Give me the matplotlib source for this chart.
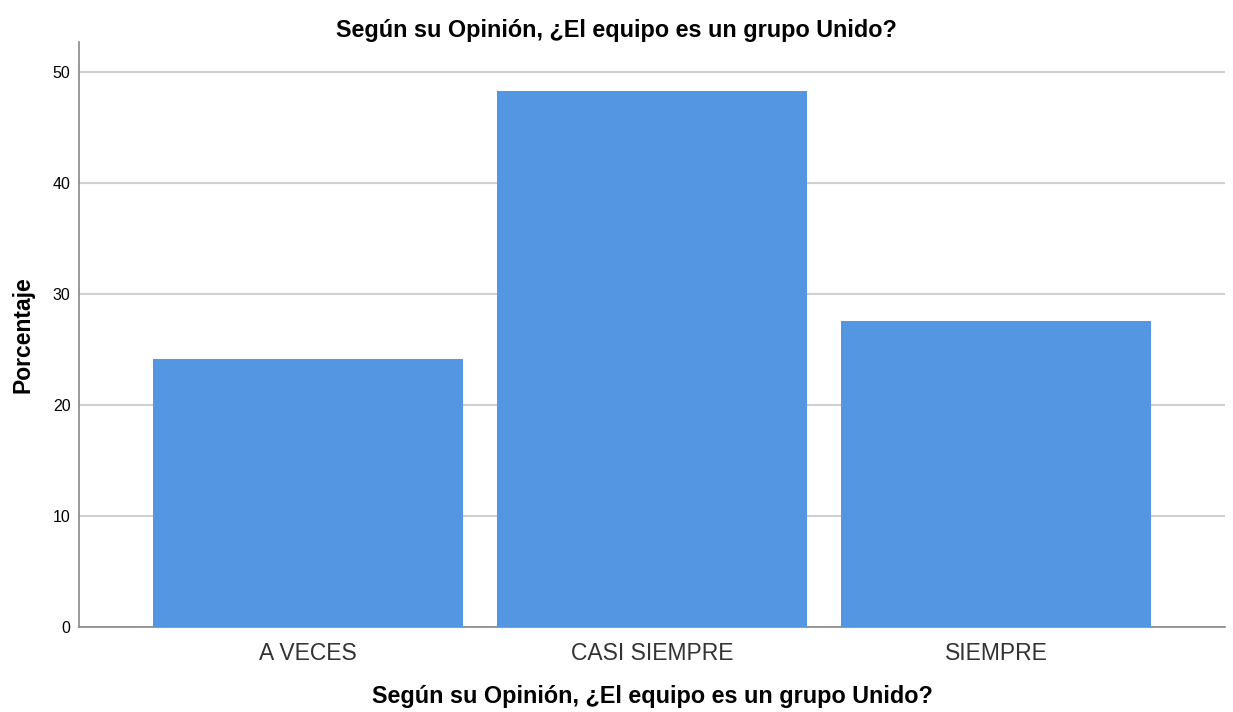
import matplotlib
matplotlib.use('Agg')
import matplotlib.pyplot as plt

categorias = ['A VECES', 'CASI SIEMPRE', 'SIEMPRE']
porcentajes = [24.1, 48.3, 27.6]
titulo = 'Según su Opinión, ¿El equipo es un grupo Unido?'

plt.rcParams['font.family'] = ['Liberation Sans', 'DejaVu Sans']

fig = plt.figure(figsize=(12.33, 7.12), dpi=100)
ax = fig.add_axes([0.064, 0.1194, 0.9295, 0.8216])

ax.bar(range(len(categorias)), porcentajes, width=0.9, color='#5596E3', zorder=3)
ax.set_xlim(-0.665, 2.665)
ax.set_ylim(0, 52.7)
ax.set_yticks([0, 10, 20, 30, 40, 50])
ax.set_xticks(range(len(categorias)))
ax.set_xticklabels(categorias, fontsize=16.5, color='#333333')
ax.tick_params(axis='y', labelsize=11.5, length=0, pad=6)
ax.tick_params(axis='x', length=0, pad=11)
ax.grid(axis='y', color='#d0d0d0', linewidth=1.5, zorder=0)

for s in ['top', 'right']:
    ax.spines[s].set_visible(False)
for s in ['left', 'bottom']:
    ax.spines[s].set_color('#888888')
    ax.spines[s].set_linewidth(1.2)

# titulo centrado en la figura
fig.suptitle(titulo, fontsize=16.8, fontweight='bold', x=0.5, y=1 - 30 / 712, va='center')
ax.set_xlabel(titulo, fontsize=16.8, fontweight='bold', labelpad=14)
ax.set_ylabel('Porcentaje', fontsize=16.5, fontweight='bold', labelpad=13)

fig.savefig('out.png', dpi=100)
